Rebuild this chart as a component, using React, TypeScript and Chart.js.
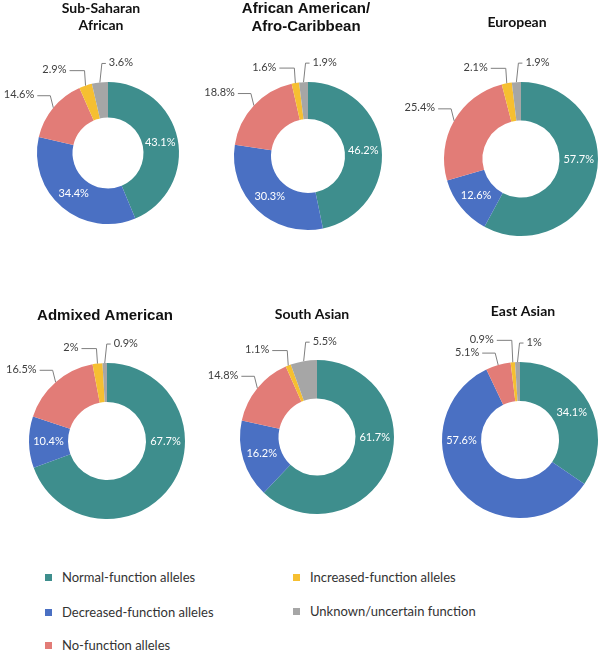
import React, { useEffect, useRef } from 'react';
import { Chart, registerables } from 'chart.js';

Chart.register(...registerables);

// ---------- data ----------
const CATEGORIES = [
  'Normal-function alleles',
  'Decreased-function alleles',
  'No-function alleles',
  'Increased-function alleles',
  'Unknown/uncertain function',
];
const COLORS = ['#3E8E8D', '#4A70C3', '#E27C77', '#F6BF31', '#A6A6A6'];

const POPULATION_TITLES = [
  ['Sub-Saharan', 'African'],
  ['African American/', 'Afro-Caribbean'],
  ['European'],
  ['Admixed American'],
  ['South Asian'],
  ['East Asian'],
];

const SUB_SAHARAN_AFRICAN = [43.1, 34.4, 14.6, 2.9, 3.6];
const AFRICAN_AMERICAN = [46.2, 30.3, 18.8, 1.6, 1.9];
const EUROPEAN = [57.7, 12.6, 25.4, 2.1, 1.9];
const ADMIXED_AMERICAN = [67.7, 10.4, 16.5, 2, 0.9];
const SOUTH_ASIAN = [61.7, 16.2, 14.8, 1.1, 5.5];
const EAST_ASIAN = [34.1, 57.6, 5.1, 0.9, 1];

const SERIES = [SUB_SAHARAN_AFRICAN, AFRICAN_AMERICAN, EUROPEAN, ADMIXED_AMERICAN, SOUTH_ASIAN, EAST_ASIAN];

// ---------- style / layout ----------
const LABEL_MODE = ['inside', 'inside', 'left', 'upLeft', 'upRight'];

const PANELS = [
  { left: 0, top: 0, width: 200, height: 280, cx: 108, cy: 153, r: 71, tx: 101, ty: 8, lh: 17, font: 'bold 14px Lato' },
  { left: 200, top: 0, width: 200, height: 280, cx: 308, cy: 156, r: 74, tx: 306, ty: 9, lh: 18, font: 'bold 15px "Liberation Sans"' },
  { left: 400, top: 0, width: 204, height: 280, cx: 521, cy: 159, r: 77, tx: 517, ty: 22, lh: 17, font: 'bold 14px Lato' },
  { left: 0, top: 290, width: 200, height: 260, cx: 107, cy: 441, r: 78, tx: 105, ty: 316, lh: 18, font: 'bold 15px "Liberation Sans"' },
  { left: 200, top: 290, width: 200, height: 260, cx: 317, cy: 437, r: 77, tx: 312, ty: 314, lh: 17, font: 'bold 14px Lato' },
  { left: 400, top: 290, width: 204, height: 260, cx: 520, cy: 440, r: 78, tx: 523, ty: 311, lh: 17, font: 'bold 14px Lato' },
];

const LEGEND_POS = [
  { x: 45, y: 577 },
  { x: 45, y: 612 },
  { x: 45, y: 645 },
  { x: 293, y: 577 },
  { x: 293, y: 611 },
];

type Panel = typeof PANELS[number];

function makeLabelPlugin(panel: Panel, title: string[]) {
  return {
    id: 'donutLabels',
    afterDatasetsDraw(chart: any) {
      const ctx: CanvasRenderingContext2D = chart.ctx;
      const meta = chart.getDatasetMeta(0);
      const values = chart.data.datasets[0].data as number[];
      ctx.save();
      // title
      ctx.fillStyle = '#111111';
      ctx.font = panel.font;
      ctx.textAlign = 'center';
      ctx.textBaseline = 'middle';
      title.forEach((line, i) => ctx.fillText(line, panel.tx - panel.left, panel.ty - panel.top + i * panel.lh));

      const placed: { x0: number; y0: number; x1: number; y1: number }[] = [];
      const fontPx = 11;
      ctx.font = `${fontPx}px Lato`;
      meta.data.forEach((arc: any, i: number) => {
        const { x, y, startAngle, endAngle, innerRadius, outerRadius } = arc.getProps(
          ['x', 'y', 'startAngle', 'endAngle', 'innerRadius', 'outerRadius'],
          true
        );
        const text = `${values[i]}%`;
        const mode = LABEL_MODE[i];
        if (mode === 'inside') {
          let a = (startAngle + endAngle) / 2;
          if (endAngle - startAngle > Math.PI) {
            if (startAngle <= 0 && endAngle >= 0) a = 0;
            else if (startAngle <= Math.PI && endAngle >= Math.PI) a = Math.PI;
          }
          const rr = (innerRadius + outerRadius) / 2;
          ctx.fillStyle = '#ffffff';
          ctx.textAlign = 'center';
          ctx.textBaseline = 'middle';
          ctx.fillText(text, x + rr * Math.cos(a), y + rr * Math.sin(a));
          return;
        }
        const m = (startAngle + endAngle) / 2;
        const ax = x + outerRadius * Math.cos(m);
        const ay = y + outerRadius * Math.sin(m);
        const w = ctx.measureText(text).width;
        let ly: number;
        let lx0: number;
        let elbowX: number;
        let lineEndX: number;
        if (mode === 'left') {
          ly = ay - 13;
          lx0 = ax - 19 - w;
          elbowX = ax - 3;
        } else if (mode === 'upLeft') {
          ly = ay - 16;
          lx0 = ax - 19 - w;
          elbowX = ax - 1;
        } else {
          ly = ay - 20;
          lx0 = ax + 9;
          elbowX = ax + 2;
        }
        const overlaps = (yy: number) =>
          placed.some(
            (b) => lx0 < b.x1 + 1 && lx0 + w > b.x0 - 1 && yy - fontPx / 2 < b.y1 + 1 && yy + fontPx / 2 > b.y0 - 1
          );
        let guard = 0;
        while (overlaps(ly) && guard < 60) {
          ly -= 1;
          guard++;
        }
        placed.push({ x0: lx0, y0: ly - fontPx / 2, x1: lx0 + w, y1: ly + fontPx / 2 });
        if (mode === 'upRight') lineEndX = lx0 - 3;
        else lineEndX = lx0 + w + 3;
        const lineY = ly + 1;
        ctx.strokeStyle = '#7F7F7F';
        ctx.lineWidth = 1;
        ctx.beginPath();
        ctx.moveTo(ax, ay);
        ctx.lineTo(elbowX, lineY);
        ctx.lineTo(lineEndX, lineY);
        ctx.stroke();
        ctx.fillStyle = '#404040';
        ctx.textAlign = 'left';
        ctx.textBaseline = 'middle';
        ctx.fillText(text, lx0, ly);
      });
      ctx.restore();
    },
  };
}

function Donut({ index }: { index: number }) {
  const ref = useRef<HTMLCanvasElement | null>(null);
  const p = PANELS[index];
  useEffect(() => {
    if (!ref.current) return;
    const chart = new Chart(ref.current, {
      type: 'doughnut',
      data: {
        labels: CATEGORIES,
        datasets: [
          {
            data: SERIES[index],
            backgroundColor: COLORS,
            borderWidth: 0,
            hoverBorderWidth: 0,
          },
        ],
      },
      options: {
        responsive: false,
        animation: false,
        events: [],
        cutout: '50%',
        layout: {
          padding: {
            left: p.cx - p.r - p.left,
            right: p.left + p.width - (p.cx + p.r),
            top: p.cy - p.r - p.top,
            bottom: p.top + p.height - (p.cy + p.r),
          },
        },
        plugins: {
          legend: { display: false },
          tooltip: { enabled: false },
          title: { display: false },
        },
      } as any,
      plugins: [makeLabelPlugin(p, POPULATION_TITLES[index]) as any],
    });
    return () => chart.destroy();
  }, [index]);
  return (
    <canvas
      ref={ref}
      width={p.width}
      height={p.height}
      style={{ position: 'absolute', left: p.left, top: p.top, width: p.width, height: p.height }}
    />
  );
}

export default function App() {
  return (
    <div
      style={{
        position: 'absolute',
        left: 0,
        top: 0,
        width: 604,
        height: 651,
        background: '#ffffff',
        overflow: 'hidden',
      }}
    >
      {PANELS.map((_, i) => (
        <Donut key={i} index={i} />
      ))}
      {CATEGORIES.map((name, i) => (
        <React.Fragment key={name}>
          <div
            style={{
              position: 'absolute',
              left: LEGEND_POS[i].x,
              top: LEGEND_POS[i].y - 3.5,
              width: 7,
              height: 7,
              background: COLORS[i],
            }}
          />
          <div
            style={{
              position: 'absolute',
              left: LEGEND_POS[i].x + 17,
              top: LEGEND_POS[i].y - 10,
              height: 20,
              lineHeight: '20px',
              fontFamily: 'Lato, sans-serif',
              fontSize: 13,
              color: '#333333',
              whiteSpace: 'nowrap',
            }}
          >
            {name}
          </div>
        </React.Fragment>
      ))}
    </div>
  );
}
